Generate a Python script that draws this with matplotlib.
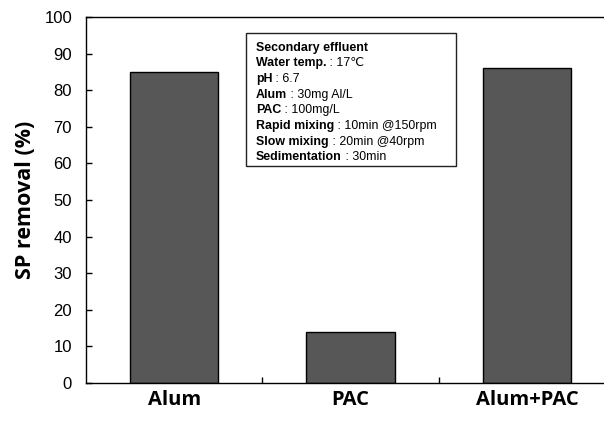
import matplotlib
matplotlib.use("Agg")
import matplotlib.pyplot as plt
import numpy as np

categories = ["Alum", "PAC", "Alum+PAC"]
removal = [85.0, 14.0, 86.0]
yticks = [0, 10, 20, 30, 40, 50, 60, 70, 80, 90, 100]

info_lines = [
    ("Secondary effluent", ""),
    ("Water temp.", " : 17℃"),
    ("pH", " : 6.7"),
    ("Alum", " : 30mg Al/L"),
    ("PAC", " : 100mg/L"),
    ("Rapid mixing", " : 10min @150rpm"),
    ("Slow mixing", " : 20min @40rpm"),
    ("Sedimentation", " : 30min"),
]

fig = plt.figure(figsize=(6.04, 4.23), dpi=100)
ax = fig.add_axes([86 / 604, 1 - 383 / 423, (615 - 86) / 604, (383 - 17) / 423])

x = np.arange(len(categories))
ax.bar(x, removal, width=0.5, color="#575757", edgecolor="black", linewidth=1.0)

ax.set_xlim(-0.5, 2.5)
ax.set_ylim(0, 100)
ax.set_yticks(yticks)
ax.set_yticklabels([str(v) for v in yticks], family="Liberation Sans", fontsize=12)
ax.set_xticks([0.5, 1.5])
ax.set_xticklabels(["", ""])
ax.tick_params(direction="in", length=4, width=1)
ax.tick_params(axis="y", pad=10)
for s in ax.spines.values():
    s.set_linewidth(1.0)

for i, c in enumerate(categories):
    ax.text(i, -0.047, c, transform=ax.get_xaxis_transform(), ha="center", va="center",
            family="Open Sans", fontweight="bold", fontsize=14.5)

ax.set_ylabel("SP removal (%)", family="Open Sans", fontweight="bold", fontsize=15.5, labelpad=6)

# info box
bx0, by0, bx1, by1 = 246, 33, 456, 166
box = plt.Rectangle((bx0 / 604, 1 - by1 / 423), (bx1 - bx0) / 604, (by1 - by0) / 423,
                    transform=fig.transFigure, facecolor="white", edgecolor="#222222", linewidth=1.0)
fig.patches.append(box)
fs = 8.9
fig.canvas.draw()
for k, (b, n) in enumerate(info_lines):
    ypix = 47.5 + k * 15.7
    t = fig.text(256 / 604, 1 - ypix / 423, b, family=["Liberation Sans", "DejaVu Sans"],
                 fontweight="bold", fontsize=fs, va="center", ha="left")
    if n:
        bb = t.get_window_extent(renderer=fig.canvas.get_renderer())
        fig.text(bb.x1 / 604, 1 - ypix / 423, n, family=["Liberation Sans", "DejaVu Sans"],
                 fontsize=fs, va="center", ha="left")

fig.savefig("out.png", dpi=100)
